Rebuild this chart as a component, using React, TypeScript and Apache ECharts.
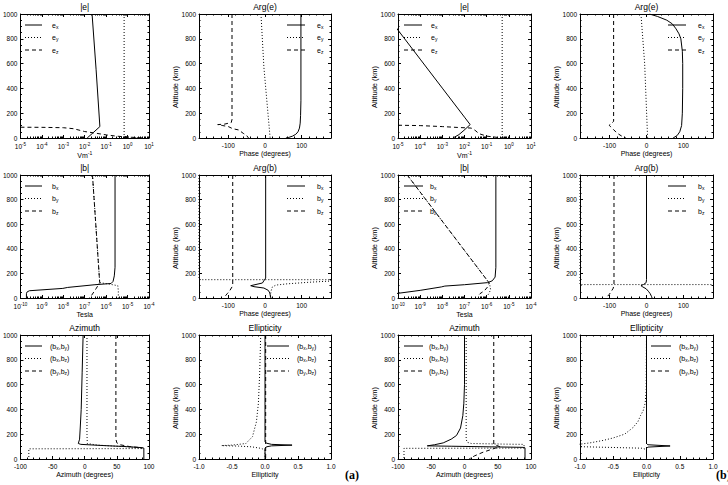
import { useEffect, useRef } from "react";
import * as echarts from "echarts";

// Profiles are lists of [value, altitude (km)].

// (a) |e|  (V/m)
const eAbsA_x = [[0.022, 1000], [0.034, 550], [0.051, 92], [0.026, 46], [0.013, 0]];
const eAbsA_y = [[0.69, 1000], [0.69, 15], [0.9, 8], [2.5, 3], [5, 0]];
const eAbsA_z = [[1e-5, 87], [1e-4, 86], [1e-3, 83], [3e-3, 75], [0.01, 52], [0.03, 40], [0.1, 25], [0.3, 15], [1, 8], [3, 3], [6, 0]];
// (a) Arg(e) (degrees)
const argEA_x = [[98, 1000], [98, 300], [97, 180], [96, 120], [94, 80], [90, 50], [84, 30], [75, 15], [65, 5], [57, 0]];
const argEA_y = [[-11, 1000], [-3, 570], [14, 0]];
const argEA_z = [[-90, 1000], [-90, 150], [-92, 125], [-110, 112], [-129, 108], [-115, 100], [-100, 92], [-88, 75], [-72, 65], [-58, 35], [-50, 20], [-45, 0]];
// (b) |e|
const eAbsB_x = [[3e-6, 1000], [1e-5, 870], [1e-4, 636], [1e-3, 402], [1e-2, 168], [0.018, 108], [0.0095, 62], [0.0056, 27], [0.003, 0]];
const eAbsB_y = [[0.5, 1000], [0.5, 10], [0.7, 3], [1.2, 0]];
const eAbsB_z = [[1e-5, 103], [1e-4, 100], [1e-3, 92], [5e-3, 85], [0.012, 82], [0.02, 80], [0.03, 62], [0.045, 35], [0.1, 15], [0.3, 5], [0.6, 0]];
// (b) Arg(e)
const argEB_x = [[8, 1000], [30, 980], [55, 950], [70, 920], [80, 880], [88, 840], [93, 800], [97, 700], [98, 600], [98, 400], [97, 200], [95, 100], [90, 50], [83, 20], [72, 0]];
const argEB_y = [[-15, 1000], [-5, 600], [3, 0]];
const argEB_z = [[-89, 1000], [-89, 135], [-95, 115], [-101, 103], [-97, 90], [-90, 70], [-80, 40], [-67, 15], [-56, 0]];

// (a) |b|  (Tesla)
const bAbsA_x = [[2.6e-6, 1000], [2.6e-6, 250], [2.4e-6, 180], [2.1e-6, 135], [1.7e-6, 118], [3e-7, 108], [1.6e-8, 86], [9.5e-9, 78], [2.6e-10, 59], [2.0e-10, 48], [1.9e-10, 35], [1.9e-10, 0]];
const bAbsA_y = [[2.3e-7, 1000], [5e-7, 125], [1.5e-6, 112], [3.5e-6, 100], [3.7e-6, 60], [3.7e-6, 0]];
const bAbsA_z = [[2.3e-7, 1000], [5e-7, 125], [3.5e-7, 80], [1.8e-7, 5], [1.6e-7, 0]];
// (a) Arg(b)
const argBA_x = [[1.8, 1000], [1.8, 162], [-7, 122], [-39, 100], [-30, 92], [-3, 81], [9, 62], [13, 41], [16, 0]];
const argBA_y = [[-180, 1000], [-180, 149], [180, 149], [180, 138], [120, 128], [60, 115], [30, 105], [20, 90], [17, 60], [15, 30], [14, 0]];
const argBA_z = [[-88, 1000], [-88, 110], [-90, 90], [-96, 60], [-103, 35], [-110, 10], [-113, 0]];
// (b) |b|
const bAbsB_x = [[2.6e-6, 1000], [2.6e-6, 250], [2.4e-6, 170], [1.8e-6, 140], [1.1e-6, 125], [1e-7, 108], [1.3e-8, 97], [9e-9, 90], [1e-9, 62], [1e-10, 38], [4e-11, 28]];
const bAbsB_y = [[2.6e-10, 1000], [1.3e-6, 122], [1.4e-6, 100], [1.5e-6, 70], [1.3e-6, 40], [1.1e-6, 20]];
const bAbsB_z = [[2.6e-10, 1000], [1.3e-6, 122], [1.1e-6, 90], [8e-7, 60], [5e-7, 35], [4e-7, 15]];
// (b) Arg(b)
const argBB_x = [[0, 1000], [0, 150], [-1, 125], [-8, 110], [-15, 100], [-10, 90], [-1, 75], [5, 55], [10, 35], [14, 10], [15, 0]];
const argBB_y = [[-180, 1000], [-180, 109], [180, 109], [180, 100]];
const argBB_z = [[-88, 1000], [-88, 110], [-90, 80], [-96, 50], [-102, 25], [-110, 0]];

// (a) Azimuth (degrees)
const azA_xy = [[-2.5, 1000], [-4, 700], [-5.5, 400], [-7, 250], [-8, 160], [-10, 125], [-6, 118], [30, 108], [65, 100], [88, 92], [92, 88], [92, 0]];
const azA_xz = [[3.5, 1000], [3.5, 200], [4, 125], [20, 112], [60, 100], [85, 90], [90, 84], [-87, 82], [-87, 0]];
const azA_yz = [[48.5, 1000], [48.5, 160], [50, 130], [55, 115], [70, 100], [90, 90]];
// (a) Ellipticity
const elA_xy = [[0, 1000], [0, 140], [0.02, 128], [0.1, 118], [0.41, 112], [0.1, 106], [0.02, 98], [0, 85], [0, 0]];
const elA_xz = [[-0.065, 1000], [-0.08, 700], [-0.1, 450], [-0.13, 300], [-0.19, 180], [-0.29, 125], [-0.5, 112], [-0.66, 108], [-0.4, 104], [-0.2, 98], [-0.05, 85], [0, 70], [0, 0]];
const elA_yz = [[0.01, 1000], [0.01, 0]];
// (b) Azimuth
const azB_xy = [[0, 1000], [0, 600], [-1, 450], [-2.5, 350], [-6, 250], [-12, 190], [-20, 160], [-32, 130], [-45, 115], [-56, 106], [-20, 103], [40, 98], [88, 94], [91, 90], [91, 0]];
const azB_xz = [[2.5, 1000], [2.5, 160], [4, 135], [10, 125], [60, 120], [89, 118], [90, 100], [90, 88], [-91, 86], [-91, 0]];
const azB_yz = [[44, 1000], [44, 120], [48, 110], [53, 100], [42, 80], [28, 55], [15, 25], [7, 0]];
// (b) Ellipticity
const elB_xy = [[0, 1000], [0, 125], [0.02, 115], [0.355, 105], [0.02, 96], [0, 85], [0, 0]];
const elB_xz = [[0, 1000], [-0.005, 550], [-0.02, 450], [-0.05, 390], [-0.09, 350], [-0.13, 300], [-0.21, 250], [-0.33, 200], [-0.5, 170], [-0.65, 150], [-0.85, 130], [-1.05, 116], [-1.05, 100], [-0.51, 93], [-0.06, 87], [0, 75], [0, 0]];
const elB_yz = [[0, 1000], [0, 0]];

// Axis ticks
const E_DECADES = [1e-5, 1e-4, 1e-3, 1e-2, 1e-1, 1, 10];
const B_DECADES = [1e-10, 1e-9, 1e-8, 1e-7, 1e-6, 1e-5, 1e-4];
const PHASE_TICKS = [-100, 0, 100];
const AZ_TICKS = [-100, -50, 0, 50, 100];
const ELL_TICKS = [-1, -0.5, 0, 0.5, 1];

// Legend labels
const E_LABELS = ["e{s|x}", "e{s|y}", "e{s|z}"];
const B_LABELS = ["b{s|x}", "b{s|y}", "b{s|z}"];
const PAIR_LABELS = ["(b{s|x},b{s|y})", "(b{s|x},b{s|z})", "(b{s|y},b{s|z})"];

const FONT = "Liberation Sans, Arial, sans-serif";

const logMinor = (dec: number[]) =>
  dec.slice(0, -1).flatMap((d) => [2, 3, 4, 5, 6, 7, 8, 9].map((k) => k * d));
const linMinor = (min: number, max: number, step: number, major: number[]) => {
  const out: number[] = [];
  const n = Math.round((max - min) / step);
  for (let i = 0; i <= n; i++) {
    const v = +(min + i * step).toFixed(6);
    if (!major.some((m) => Math.abs(m - v) < 1e-9)) out.push(v);
  }
  return out;
};
const logFmt = (v: number) => `{b|10}{e|${Math.round(Math.log10(v))}}`;

const AXES: Record<string, any> = {
  logE: { type: "log", min: 1e-5, max: 10, major: E_DECADES, minor: logMinor(E_DECADES), fmt: logFmt },
  logB: { type: "log", min: 1e-10, max: 1e-4, major: B_DECADES, minor: logMinor(B_DECADES), fmt: logFmt },
  phase: { type: "value", min: -180, max: 180, major: PHASE_TICKS, minor: linMinor(-180, 180, 20, PHASE_TICKS), fmt: (v: number) => `${v}` },
  az: { type: "value", min: -100, max: 100, major: AZ_TICKS, minor: linMinor(-100, 100, 10, AZ_TICKS), fmt: (v: number) => `${v}` },
  ell: { type: "value", min: -1, max: 1, major: ELL_TICKS, minor: linMinor(-1, 1, 0.1, ELL_TICKS), fmt: (v: number) => v.toFixed(1) },
};

const COL_LEFT = [16, 199, 398, 580];
const COL_WIDTH = [133, 132, 133, 133];
const ROW_TOP = [14, 175, 335];
const ROW_HEIGHT = [124, 123, 124];

const panels = [
  { col: 0, row: 0, title: "|e|", kind: "logE", xName: "Vm{e|-1}", data: [eAbsA_x, eAbsA_y, eAbsA_z], labels: E_LABELS, leg: [9, 26, 36] },
  { col: 1, row: 0, title: "Arg(e)", kind: "phase", xName: "Phase (degrees)", data: [argEA_x, argEA_y, argEA_z], labels: E_LABELS, leg: [88, 106, 118] },
  { col: 2, row: 0, title: "|e|", kind: "logE", xName: "Vm{e|-1}", data: [eAbsB_x, eAbsB_y, eAbsB_z], labels: E_LABELS, leg: [6, 24, 33] },
  { col: 3, row: 0, title: "Arg(e)", kind: "phase", xName: "Phase (degrees)", data: [argEB_x, argEB_y, argEB_z], labels: E_LABELS, leg: [88, 106, 118] },
  { col: 0, row: 1, title: "|b|", kind: "logB", xName: "Tesla", data: [bAbsA_x, bAbsA_y, bAbsA_z], labels: B_LABELS, leg: [9, 26, 36] },
  { col: 1, row: 1, title: "Arg(b)", kind: "phase", xName: "Phase (degrees)", data: [argBA_x, argBA_y, argBA_z], labels: B_LABELS, leg: [88, 106, 118] },
  { col: 2, row: 1, title: "|b|", kind: "logB", xName: "Tesla", data: [bAbsB_x, bAbsB_y, bAbsB_z], labels: B_LABELS, leg: [6, 25, 32] },
  { col: 3, row: 1, title: "Arg(b)", kind: "phase", xName: "Phase (degrees)", data: [argBB_x, argBB_y, argBB_z], labels: B_LABELS, leg: [88, 106, 118] },
  { col: 0, row: 2, title: "Azimuth", kind: "az", xName: "Azimuth (degrees)", data: [azA_xy, azA_xz, azA_yz], labels: PAIR_LABELS, leg: [9, 26, 34] },
  { col: 1, row: 2, title: "Ellipticity", kind: "ell", xName: "Ellipticity", data: [elA_xy, elA_xz, elA_yz], labels: PAIR_LABELS, leg: [68, 90, 98] },
  { col: 2, row: 2, title: "Azimuth", kind: "az", xName: "Azimuth (degrees)", data: [azB_xy, azB_xz, azB_yz], labels: PAIR_LABELS, leg: [6, 25, 31] },
  { col: 3, row: 2, title: "Ellipticity", kind: "ell", xName: "Ellipticity", data: [elB_xy, elB_xz, elB_yz], labels: PAIR_LABELS, leg: [71, 91, 99] },
];

const DASHES: (number[] | "solid")[] = ["solid", [1, 2], [4, 3]];
const LEG_ROWS = [11, 23.5, 36];

const BLACK = "#000";
const lineStyle = { color: BLACK, width: 1 };

function buildOption() {
  const grid: any[] = [];
  const xAxis: any[] = [];
  const yAxis: any[] = [];
  const series: any[] = [];
  const graphic: any[] = [];

  panels.forEach((p, i) => {
    const left = COL_LEFT[p.col];
    const top = ROW_TOP[p.row];
    const width = COL_WIDTH[p.col];
    const height = ROW_HEIGHT[p.row];
    grid.push({ left, top, width, height });
    const ax = AXES[p.kind];
    const base = { gridIndex: i, type: ax.type, min: ax.min, max: ax.max, splitLine: { show: false }, logBase: 10 };
    const labelRich = {
      b: { fontSize: 6.5, fontFamily: FONT, color: BLACK },
      e: { fontSize: 4.5, fontFamily: FONT, color: BLACK, padding: [0, 0, 4, 0] },
    };
    // bottom axis with labels and axis name
    xAxis.push({
      ...base,
      position: "bottom",
      axisLine: { show: true, onZero: false, lineStyle },
      axisTick: { show: true, inside: true, length: 3, customValues: ax.major, lineStyle },
      axisLabel: {
        show: true,
        customValues: ax.major,
        formatter: ax.type === "log" ? ax.fmt : (v: number) => `{b|${ax.fmt(v)}}`,
        margin: 4,
        rich: labelRich,
      },
      name: p.xName.includes("{") ? `{b|Vm}{e|-1}` : p.xName,
      nameLocation: "middle",
      nameGap: 11,
      nameTextStyle: {
        fontSize: 7,
        fontFamily: FONT,
        color: BLACK,
        rich: {
          b: { fontSize: 7, fontFamily: FONT, color: BLACK },
          e: { fontSize: 5, fontFamily: FONT, color: BLACK, padding: [0, 0, 4, 0] },
        },
      },
    });
    // top axis: frame edge, ticks and panel title
    xAxis.push({
      ...base,
      position: "top",
      axisLine: { show: true, onZero: false, lineStyle },
      axisTick: { show: true, inside: true, length: 3, customValues: ax.major, lineStyle },
      axisLabel: { show: false },
      name: p.title,
      nameLocation: "middle",
      nameGap: 3,
      nameTextStyle: { fontSize: 8.5, fontFamily: FONT, color: BLACK },
    });
    // minor ticks, bottom and top
    for (const pos of ["bottom", "top"]) {
      xAxis.push({
        ...base,
        position: pos,
        axisLine: { show: false, onZero: false },
        axisTick: { show: true, inside: true, length: 1.5, customValues: ax.minor, lineStyle },
        axisLabel: { show: false },
      });
    }
    const yBase = {
      gridIndex: i,
      type: "value",
      min: 0,
      max: 1000,
      interval: 200,
      splitLine: { show: false },
      axisLine: { show: true, onZero: false, lineStyle },
      axisTick: { show: true, inside: true, length: 3, lineStyle },
      minorTick: { show: true, splitNumber: 4, length: 1.5, lineStyle },
    };
    yAxis.push({
      ...yBase,
      position: "left",
      axisLabel: { show: true, margin: 3, fontSize: 6.5, fontFamily: FONT, color: BLACK, formatter: (v: number) => String(v) },
    });
    yAxis.push({ ...yBase, position: "right", axisLabel: { show: false } });

    p.data.forEach((d, k) => {
      series.push({
        type: "line",
        xAxisIndex: i * 4,
        yAxisIndex: i * 2,
        data: d,
        symbol: "none",
        showSymbol: false,
        silent: true,
        clip: true,
        lineStyle: { color: BLACK, width: 1, type: DASHES[k] },
      });
    });

    // legend samples
    const [lx1, lx2, tx] = p.leg;
    LEG_ROWS.forEach((dy, k) => {
      const y = top + dy;
      graphic.push({
        type: "line",
        silent: true,
        shape: { x1: left + lx1, y1: y, x2: left + lx2, y2: y },
        style: { stroke: BLACK, lineWidth: 1, lineDash: DASHES[k] === "solid" ? null : DASHES[k] },
      });
      graphic.push({
        type: "text",
        silent: true,
        x: left + tx,
        y,
        style: {
          text: p.labels[k],
          fill: BLACK,
          fontSize: 7,
          fontFamily: FONT,
          align: "left",
          verticalAlign: "middle",
          rich: {
            s: { fontSize: 5, fontFamily: FONT, fill: BLACK, padding: [3, 0, 0, 0] },
          },
        },
      });
    });

    if (p.col > 0) {
      graphic.push({
        type: "text",
        silent: true,
        x: left - 24,
        y: top + 73,
        rotation: Math.PI / 2,
        style: {
          text: "Altitude (km)",
          fill: BLACK,
          fontSize: 7.5,
          fontFamily: FONT,
          align: "center",
          verticalAlign: "middle",
        },
      });
    }
  });

  graphic.push({
    type: "text",
    silent: true,
    x: 345,
    y: 475,
    style: { text: "(a)", fill: BLACK, fontSize: 12, fontWeight: "bold", fontFamily: "Liberation Serif, Times New Roman, serif", verticalAlign: "middle" },
  });
  graphic.push({
    type: "text",
    silent: true,
    x: 716,
    y: 475,
    style: { text: "(b)", fill: BLACK, fontSize: 12, fontWeight: "bold", fontFamily: "Liberation Serif, Times New Roman, serif", verticalAlign: "middle" },
  });

  return {
    animation: false,
    backgroundColor: "#fff",
    textStyle: { fontFamily: FONT },
    grid,
    xAxis,
    yAxis,
    series,
    graphic,
  };
}

export default function App() {
  const ref = useRef<HTMLDivElement>(null);
  useEffect(() => {
    if (!ref.current) return;
    const chart = echarts.init(ref.current, undefined, { renderer: "svg" });
    chart.setOption(buildOption() as any);
    return () => chart.dispose();
  }, []);
  return (
    <div
      ref={ref}
      style={{ position: "absolute", left: 0, top: 0, width: 728, height: 485, background: "#fff" }}
    />
  );
}
